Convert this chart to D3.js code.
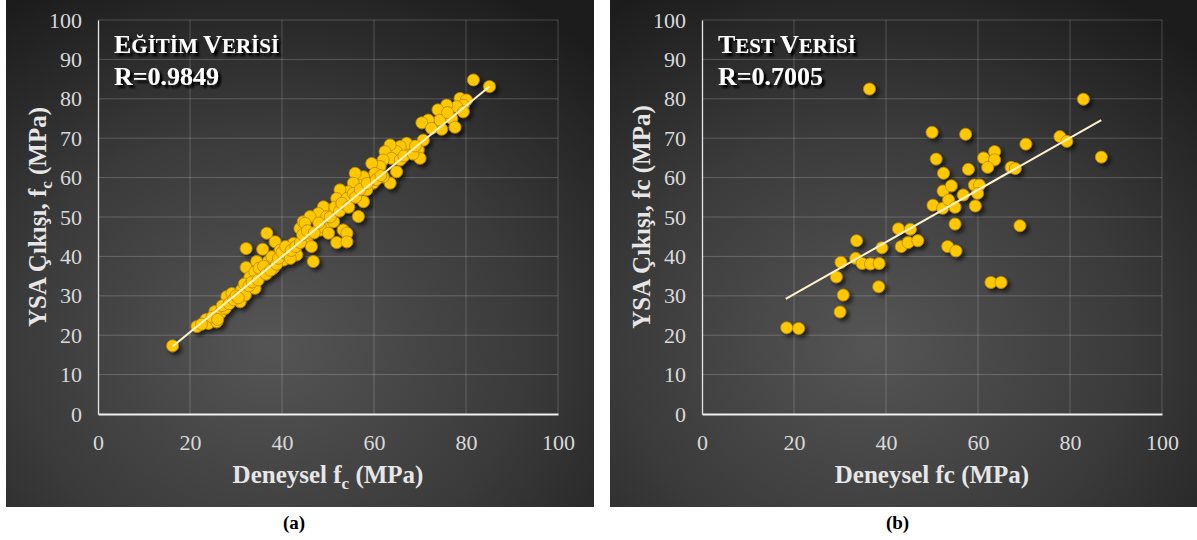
<!DOCTYPE html>
<html>
<head>
<meta charset="utf-8">
<script src="https://cdn.jsdelivr.net/npm/d3@7"></script>
</head>
<body style="margin:0">
<div id="chart"></div>
<script>
// training data: [deneysel fc, YSA output]
var trainPoints = [
  [16.2,17.3],[21.5,22.2],[23.5,24.0],[24.0,23.0],[25.8,23.4],[25.4,26.0],[26.5,25.5],[27.6,26.8],
  [28.0,29.8],[29.1,30.6],[30.9,28.5],[31.2,31.5],[32.0,30.2],[32.2,37.2],[32.2,42.0],[33.0,34.7],
  [34.1,31.9],[34.5,38.7],[34.1,36.1],[35.6,35.7],[35.8,41.8],[36.7,45.9],[37.0,38.7],[38.1,37.0],
  [38.5,43.7],[37.8,39.9],[39.6,41.6],[40.3,39.1],[41.4,40.8],[42.5,43.3],[43.2,40.4],[43.9,47.1],
  [44.6,48.8],[45.4,44.6],[46.4,42.5],[46.8,38.7],[47.9,49.2],[48.3,46.7],[49.3,51.8],[49.7,48.4],
  [81.6,84.8],[85.1,83.1],[78.7,80.1],[80.1,79.7],[79.4,78.4],[78.0,78.0],[75.8,78.4],[73.9,77.2],
  [79.4,76.7],[76.9,75.0],[77.6,72.8],[74.7,72.3],[74.3,74.6],[71.8,74.6],[70.4,73.9],[70.7,69.5],
  [69.6,67.0],[70.0,64.9],[67.8,67.4],[67.1,68.7],[65.7,67.9],[64.9,66.6],[63.5,68.3],[62.4,66.6],
  [63.8,64.9],[65.7,64.5],[64.9,61.5],[62.0,64.5],[61.3,62.8],[59.5,63.6],[60.2,61.1],[63.5,58.6],
  [62.0,60.2],[59.8,58.6],[57.7,60.2],[55.9,61.1],[58.4,56.9],[56.6,58.1],[55.5,58.6],[54.4,56.4],
  [52.6,56.9],[51.9,54.7],[54.1,54.7],[55.5,56.0],[57.7,53.9],[56.6,50.1],[53.3,46.7],[54.1,45.9],
  [50.4,51.8],[49.0,52.6],[47.9,50.9],[49.7,50.1],[46.1,50.1],[45.0,48.4],[48.3,47.5],[51.2,48.8],
  [50.1,45.9],[46.1,45.9],[51.9,43.5],[54.1,43.7],
  [22.5,22.8],[24.8,24.6],[26.0,24.0],[27.0,27.5],[28.5,28.0],[29.5,29.0],[30.0,30.0],[30.5,29.5],
  [31.8,33.0],[32.8,32.5],[33.5,33.5],[34.8,34.0],[35.0,37.0],[36.0,37.5],[36.5,35.5],[37.5,36.5],
  [38.8,38.0],[39.2,39.5],[40.0,41.0],[40.8,42.5],[41.8,39.5],[42.0,41.5],[43.0,42.5],[44.0,43.5],
  [44.5,45.5],[45.5,46.5],[47.0,46.0],[48.0,48.5],[50.5,50.0],[51.5,52.5],[52.5,51.5],[53.0,53.5],
  [54.5,52.5],[56.0,55.0],[57.0,57.0],[58.5,58.5],[60.5,59.5],[61.5,60.5],[66.5,65.5],[68.5,66.0],
  [69.0,68.0],[72.5,72.5],[76.0,76.5]
];

// test data: [deneysel fc, YSA output]
var testPoints = [
  [18.4,21.9],[21.0,21.7],[30.0,25.9],[30.7,30.2],[29.2,34.8],[30.2,38.5],[33.6,44.0],[33.4,39.5],
  [34.8,38.2],[36.6,38.1],[38.5,38.2],[38.4,32.3],[39.1,42.2],[36.4,82.5],[42.7,47.0],[45.3,46.9],
  [43.3,42.5],[44.8,43.5],[46.9,44.0],[50.0,71.5],[50.9,64.7],[52.5,61.1],[52.4,56.6],[50.2,53.0],
  [52.3,52.2],[53.4,42.5],[55.2,41.4],[55.0,48.2],[53.6,54.3],[55.0,52.5],[54.2,57.9],[56.8,55.6],
  [57.3,71.0],[57.9,62.1],[59.2,58.1],[60.3,58.1],[59.9,56.0],[59.4,52.8],[61.2,65.0],[63.6,66.6],
  [63.6,64.5],[62.1,62.6],[62.8,33.4],[65.0,33.4],[67.2,62.6],[68.1,62.3],[69.1,47.8],[70.4,68.5],
  [77.8,70.4],[79.3,69.2],[82.9,79.9],[86.8,65.2]
];

// trend lines: [slope, intercept], x range
var trainFit = [0.958, 1.59], trainFitRange = [16.2, 85.1];
var testFit = [0.662, 17.15], testFitRange = [18.2, 86.8];

var xTicks = [0, 20, 40, 60, 80, 100];
var yTicks = [0, 10, 20, 30, 40, 50, 60, 70, 80, 90, 100];

var FONT = "Liberation Serif";

var svg = d3.select("#chart").append("svg").attr("width", 1197).attr("height", 540);
var defs = svg.append("defs");

var grad = defs.append("radialGradient").attr("id", "bg")
  .attr("cx", "45%").attr("cy", "68%").attr("r", "80%");
grad.append("stop").attr("offset", "0%").attr("stop-color", "#555555");
grad.append("stop").attr("offset", "55%").attr("stop-color", "#3a3a3a");
grad.append("stop").attr("offset", "100%").attr("stop-color", "#1c1c1c");

var sh = defs.append("filter").attr("id", "dotShadow")
  .attr("x", "-50%").attr("y", "-50%").attr("width", "200%").attr("height", "200%");
sh.append("feDropShadow").attr("dx", 3).attr("dy", 3).attr("stdDeviation", 2)
  .attr("flood-color", "#000").attr("flood-opacity", 0.65);

var tsh = defs.append("filter").attr("id", "textShadow")
  .attr("x", "-20%").attr("y", "-30%").attr("width", "140%").attr("height", "160%");
tsh.append("feDropShadow").attr("dx", 3).attr("dy", 3).attr("stdDeviation", 1)
  .attr("flood-color", "#000").attr("flood-opacity", 1);

function drawPanel(left, w, points, fit, fitRange, title, rText, yTitleParts, xTitleParts, caption) {
  var g = svg.append("g").attr("transform", "translate(" + left + ",0)");
  g.append("rect").attr("width", w).attr("height", 507).attr("fill", "url(#bg)");

  var x = d3.scaleLinear().domain([0, 100]).range([92, 552]);
  var y = d3.scaleLinear().domain([0, 100]).range([414, 20]);

  // grid
  g.append("g").selectAll("line").data(yTicks.slice(1)).enter().append("line")
    .attr("x1", x(0)).attr("x2", x(100))
    .attr("y1", function(d) { return y(d); }).attr("y2", function(d) { return y(d); })
    .attr("stroke", "rgba(255,255,255,0.2)").attr("stroke-width", 1);
  g.append("g").selectAll("line").data(xTicks.slice(1)).enter().append("line")
    .attr("y1", y(0)).attr("y2", y(100))
    .attr("x1", function(d) { return x(d); }).attr("x2", function(d) { return x(d); })
    .attr("stroke", "rgba(255,255,255,0.2)").attr("stroke-width", 1);

  // axes
  var xAxis = g.append("g").attr("transform", "translate(0," + y(0) + ")")
    .call(d3.axisBottom(x).tickValues(xTicks).tickSize(0).tickPadding(20));
  var yAxis = g.append("g").attr("transform", "translate(" + x(0) + ",0)")
    .call(d3.axisLeft(y).tickValues(yTicks).tickSize(0).tickPadding(16));
  xAxis.attr("font-family", FONT).attr("font-size", 22);
  yAxis.attr("font-family", FONT).attr("font-size", 22);
  xAxis.select(".domain").attr("stroke", "#f2f2f2").attr("stroke-width", 2);
  yAxis.select(".domain").attr("stroke", "#e6e6e6").attr("stroke-width", 1.3);
  g.selectAll(".tick text").attr("fill", "#d9d9d9")
    .attr("font-family", FONT).attr("font-size", 22);

  // points
  g.append("g").attr("filter", "url(#dotShadow)")
    .selectAll("circle").data(points).enter().append("circle")
    .attr("cx", function(d) { return x(d[0]); })
    .attr("cy", function(d) { return y(d[1]); })
    .attr("r", 6)
    .attr("fill", "#ffc800")
    .attr("stroke", "#b88a00").attr("stroke-width", 0.8);

  // trend line
  g.append("line")
    .attr("x1", x(fitRange[0])).attr("y1", y(fit[0] * fitRange[0] + fit[1]))
    .attr("x2", x(fitRange[1])).attr("y2", y(fit[0] * fitRange[1] + fit[1]))
    .attr("stroke", "#fff2cc").attr("stroke-width", 2);

  // annotation
  var ann = g.append("g").attr("filter", "url(#textShadow)");
  var t1 = ann.append("text").attr("x", 108).attr("y", 53)
    .attr("font-family", FONT).attr("font-weight", "bold").attr("fill", "#fff");
  title.forEach(function(p) {
    t1.append("tspan").attr("font-size", p[1] ? 26 : 21).text(p[0]);
  });
  ann.append("text").attr("x", 108).attr("y", 85)
    .attr("font-family", FONT).attr("font-weight", "bold").attr("fill", "#fff")
    .attr("font-size", 26).text(rText);

  // axis titles
  var xt = g.append("text").attr("x", (x(0) + x(100)) / 2).attr("y", 483)
    .attr("text-anchor", "middle").attr("fill", "#e6e6e6")
    .attr("font-family", FONT).attr("font-weight", "bold").attr("font-size", 25);
  xTitleParts.forEach(function(p) {
    var s = xt.append("tspan").text(p[0]);
    if (p[1]) s.attr("dy", 6).attr("font-size", 17);
    else if (p[2]) s.attr("dy", -6);
  });
  var yt = g.append("text").attr("transform", "translate(40," + (y(0) + y(100)) / 2 + ") rotate(-90)")
    .attr("text-anchor", "middle").attr("fill", "#e6e6e6")
    .attr("font-family", FONT).attr("font-weight", "bold").attr("font-size", 25);
  yTitleParts.forEach(function(p) {
    var s = yt.append("tspan").text(p[0]);
    if (p[1]) s.attr("dy", 6).attr("font-size", 17);
    else if (p[2]) s.attr("dy", -6);
  });

  // caption under panel
  svg.append("text").attr("x", left + w / 2 - 6).attr("y", 529)
    .attr("text-anchor", "middle").attr("fill", "#000")
    .attr("font-family", FONT).attr("font-weight", "bold").attr("font-size", 19)
    .text(caption);
}

drawPanel(6, 588, trainPoints, trainFit, trainFitRange,
  [["E", 1], ["ĞİTİM ", 0], ["V", 1], ["ERİSİ", 0]], "R=0.9849",
  [["YSA Çıkışı, f"], ["c", 1], [" (MPa)", 0, 1]],
  [["Deneysel f"], ["c", 1], [" (MPa)", 0, 1]], "(a)");

drawPanel(610, 587, testPoints, testFit, testFitRange,
  [["T", 1], ["EST ", 0], ["V", 1], ["ERİSİ", 0]], "R=0.7005",
  [["YSA Çıkışı, fc (MPa)"]],
  [["Deneysel fc (MPa)"]], "(b)");
</script>
</body>
</html>
